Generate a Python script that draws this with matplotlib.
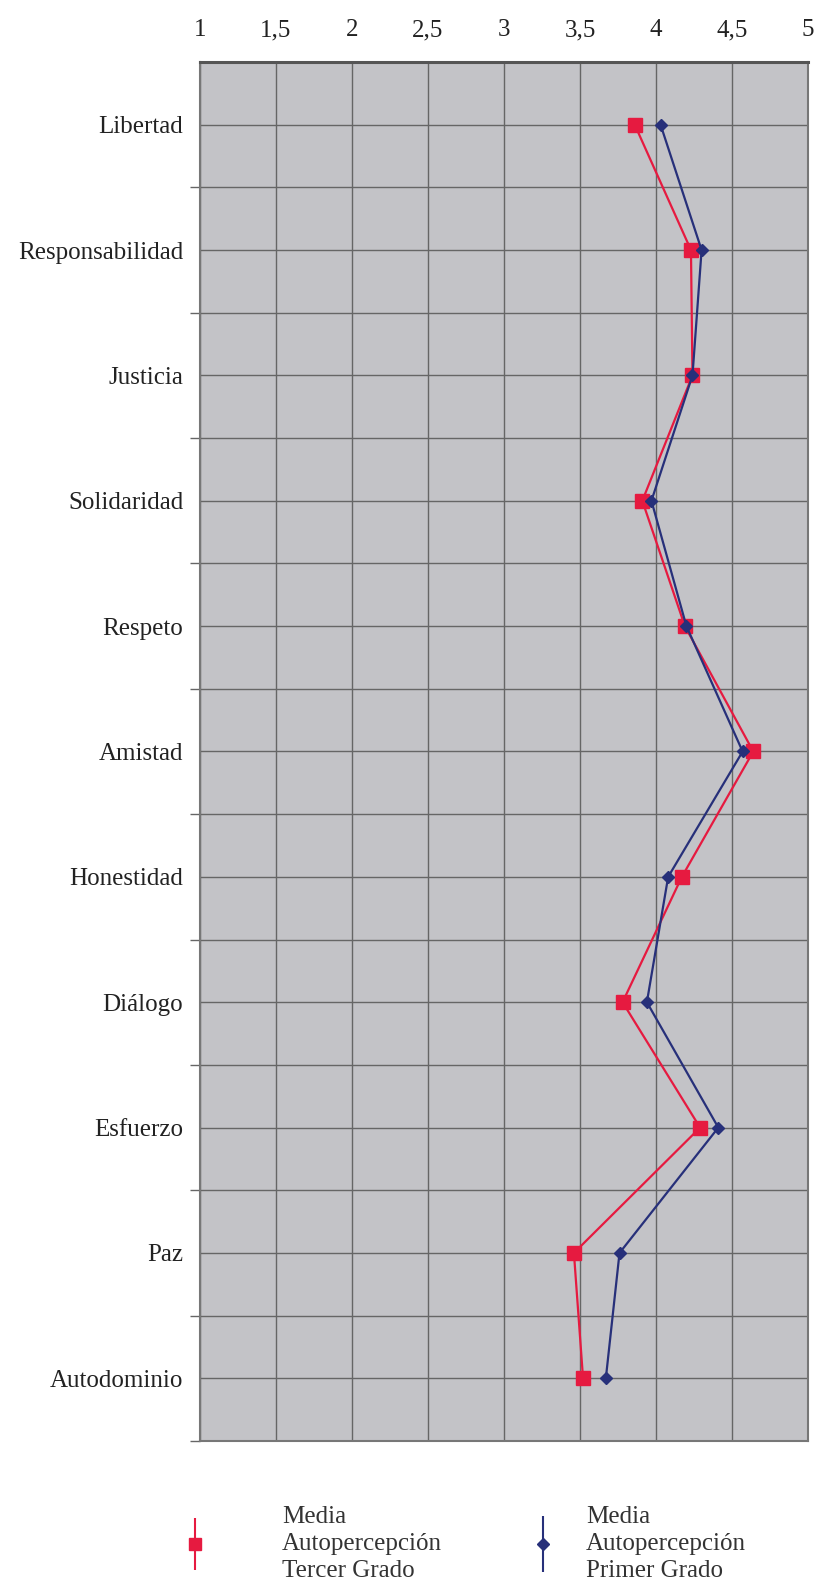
import matplotlib
matplotlib.use("Agg")
import matplotlib.pyplot as plt
from matplotlib.lines import Line2D
from matplotlib.ticker import FuncFormatter, MultipleLocator
import numpy as np

plt.rcParams['font.family'] = ['Liberation Serif', 'DejaVu Serif']

valores = ["Libertad", "Responsabilidad", "Justicia", "Solidaridad", "Respeto",
           "Amistad", "Honestidad", "Diálogo", "Esfuerzo", "Paz", "Autodominio"]
tercer_grado = [3.86, 4.23, 4.24, 3.91, 4.19, 4.64, 4.17, 3.78, 4.29, 3.46, 3.52]
primer_grado = [4.03, 4.30, 4.24, 3.97, 4.20, 4.57, 4.08, 3.94, 4.41, 3.76, 3.67]
etiqueta_tercer = "Media\nAutopercepción\nTercer Grado"
etiqueta_primer = "Media\nAutopercepción\nPrimer Grado"

rojo = "#e61a40"
azul = "#27307a"
fs = 18

fig = plt.figure(figsize=(8.2, 15.93), dpi=100)
ax = fig.add_axes([200 / 820, 1 - 1441 / 1593, 608 / 820, 1379 / 1593])
ax.set_facecolor("#c3c3c7")

pos = np.arange(len(valores))
ax.plot(tercer_grado, pos, color=rojo, lw=1.6, marker="s", ms=10, zorder=3)
ax.plot(primer_grado, pos, color=azul, lw=1.6, marker="D", ms=6, zorder=4)

ax.set_xlim(1, 5)
ax.set_ylim(len(valores) - 0.5, -0.5)
ax.xaxis.set_major_locator(MultipleLocator(0.5))
ax.xaxis.set_major_formatter(FuncFormatter(lambda v, p: ("%g" % v).replace(".", ",")))
ax.xaxis.tick_top()
ax.set_yticks(pos)
ax.set_yticklabels(valores)
ax.set_yticks(pos + 0.5, minor=True)
ax.tick_params(axis="both", which="major", length=0, labelsize=fs, colors="#222222")
ax.tick_params(axis="x", pad=15)
ax.tick_params(axis="y", pad=12)
ax.tick_params(axis="y", which="minor", length=7, width=1.0, color="#666666", direction="out")
ax.grid(True, which="both", color="#666666", lw=1.0)
ax.set_axisbelow(True)
for s in ax.spines.values():
    s.set_color("#777777")
    s.set_linewidth(1.5)
ax.spines["top"].set_color("#555555")
ax.spines["top"].set_linewidth(2.2)

h_rojo = (Line2D([], [], ls="none", marker="|", ms=38, mew=1.5, color=rojo),
          Line2D([], [], ls="none", marker="s", ms=9, color=rojo))
h_azul = (Line2D([], [], ls="none", marker="|", ms=40, mew=1.5, color=azul),
          Line2D([], [], ls="none", marker="D", ms=6, color=azul))

ley_y = 1 - 1544 / 1593
for h, lab, x0, pad in [(h_rojo, etiqueta_tercer, 183, 2.95),
                        (h_azul, etiqueta_primer, 531, 1.2)]:
    leg = fig.legend([h], [lab], loc="center left", bbox_to_anchor=(x0 / 820, ley_y),
                     frameon=False, fontsize=fs, handlelength=1.0, handletextpad=pad,
                     borderpad=0, borderaxespad=0)
    for t in leg.get_texts():
        t.set_linespacing(1.3)
        t.set_color("#333333")

fig.savefig("out.png", dpi=100)
